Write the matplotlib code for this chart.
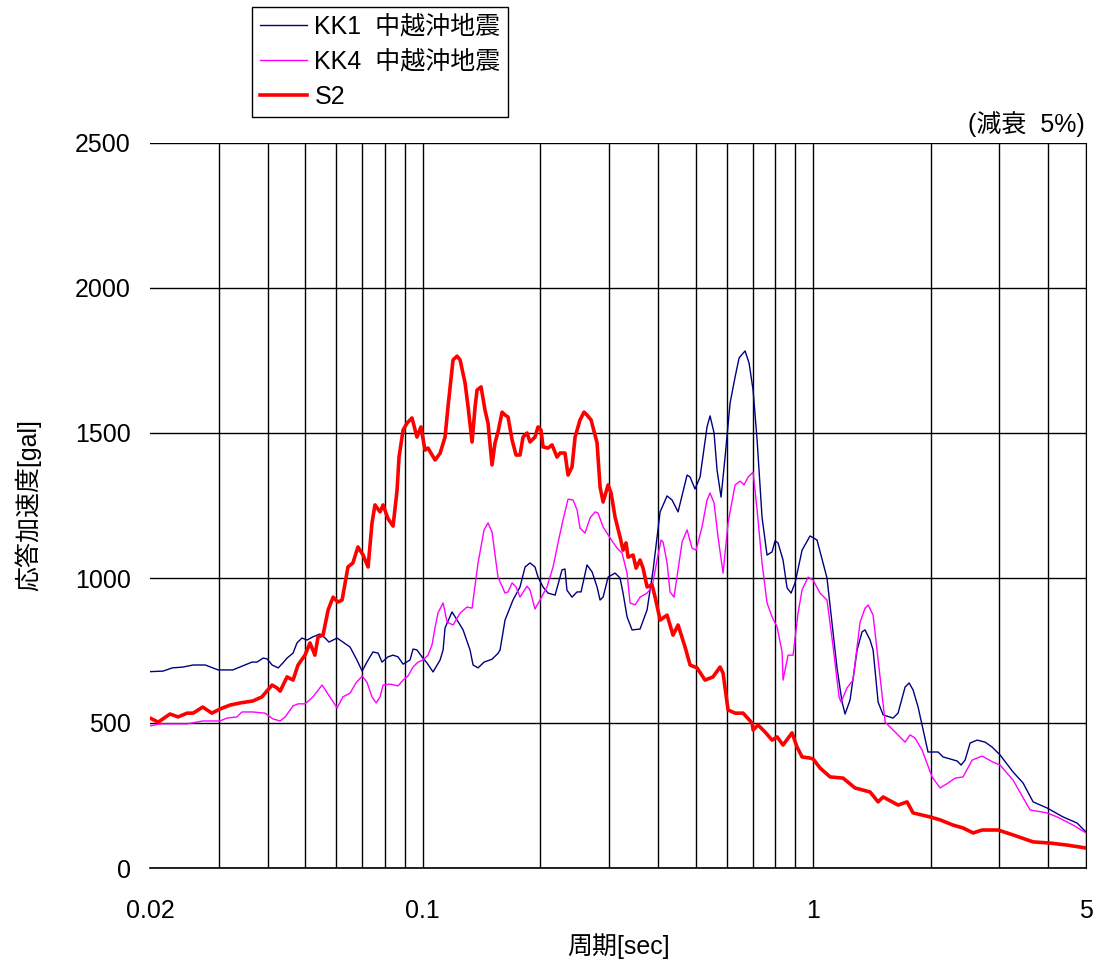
import matplotlib
matplotlib.use("Agg")
import matplotlib.pyplot as plt
from matplotlib.ticker import FixedLocator, NullFormatter

plt.rcParams['font.family'] = ['Liberation Sans', 'Noto Sans CJK JP', 'DejaVu Sans']

# 応答スペクトル (減衰5%)  period [sec] / acceleration [gal]
kk1_period = [0.0200, 0.0216, 0.0228, 0.0243, 0.0258, 0.0277, 0.0299, 0.0326, 0.0340, 0.0365,
              0.0376, 0.0390, 0.0399, 0.0411, 0.0426, 0.0438, 0.0449, 0.0465, 0.0476, 0.0490,
              0.0505, 0.0523, 0.0545, 0.0562, 0.0575, 0.0603, 0.0624, 0.0651, 0.0678, 0.0699,
              0.0719, 0.0745, 0.0768, 0.0786, 0.0814, 0.0839, 0.0864, 0.0890, 0.0927, 0.0944,
              0.0966, 0.0995, 0.1025, 0.1062, 0.1107, 0.1127, 0.1140, 0.1188, 0.1224, 0.1268,
              0.1321, 0.1345, 0.1385, 0.1435, 0.1504, 0.1558, 0.1577, 0.1624, 0.1702, 0.1774,
              0.1828, 0.1882, 0.1938, 0.1973, 0.2032, 0.2093, 0.2182, 0.2273, 0.2313, 0.2340,
              0.2411, 0.2484, 0.2543, 0.2634, 0.2714, 0.2795, 0.2845, 0.2896, 0.2983, 0.3108,
              0.3201, 0.3258, 0.3336, 0.3436, 0.3602, 0.3754, 0.3890, 0.4054, 0.4224, 0.4350,
              0.4507, 0.4753, 0.4838, 0.4981, 0.5131, 0.5347, 0.5443, 0.5573, 0.5672, 0.5808,
              0.5947, 0.6125, 0.6309, 0.6460, 0.6692, 0.6852, 0.7016, 0.7184, 0.7396, 0.7618,
              0.7847, 0.7987, 0.8128, 0.8372, 0.8573, 0.8778, 0.8987, 0.9366, 0.9818, 1.023,
              1.085, 1.125, 1.151, 1.186, 1.207, 1.243, 1.296, 1.334, 1.358, 1.399,
              1.424, 1.467, 1.511, 1.602, 1.650, 1.720, 1.761, 1.803, 1.857, 1.969,
              2.089, 2.152, 2.337, 2.393, 2.450, 2.524, 2.630, 2.758, 2.874, 3.011,
              3.252, 3.450, 3.660, 3.974, 4.368, 4.744, 5.0]
kk1_gal = [677, 679, 690, 693, 700, 700, 683, 683, 693, 710,
           710, 724, 721, 700, 690, 707, 724, 741, 776, 793,
           786, 797, 807, 793, 779, 793, 779, 762, 717, 679,
           710, 745, 741, 710, 728, 734, 728, 703, 717, 755,
           752, 728, 707, 676, 717, 752, 828, 883, 855, 821,
           752, 700, 690, 710, 720, 740, 752, 855, 924, 969,
           1038, 1052, 1038, 1003, 969, 948, 941, 1028, 1031, 958,
           934, 952, 952, 1045, 1021, 969, 924, 934, 1003, 1017,
           1000, 948, 866, 821, 824, 890, 1028, 1228, 1283, 1269,
           1228, 1355, 1348, 1307, 1348, 1521, 1559, 1500, 1372, 1279,
           1417, 1603, 1693, 1759, 1783, 1741, 1648, 1476, 1210, 1079,
           1090, 1128, 1121, 1062, 966, 948, 983, 1096, 1145, 1131,
           1000, 810, 690, 572, 531, 579, 752, 814, 821, 786,
           752, 572, 528, 517, 534, 624, 638, 614, 555, 400,
           400, 383, 369, 355, 372, 431, 441, 434, 417, 390,
           331, 293, 228, 207, 176, 155, 124]

kk4_period = [0.0200, 0.0212, 0.0249, 0.0273, 0.0302, 0.0315, 0.0334, 0.0344, 0.0367, 0.0394,
              0.0413, 0.0431, 0.0444, 0.0465, 0.0479, 0.0499, 0.0523, 0.0552, 0.0578, 0.0603,
              0.0624, 0.0651, 0.0674, 0.0699, 0.0719, 0.0741, 0.0759, 0.0777, 0.0791, 0.0824,
              0.0864, 0.0890, 0.0916, 0.0944, 0.0972, 0.1001, 0.1031, 0.1056, 0.1075, 0.1094,
              0.1127, 0.1154, 0.1195, 0.1246, 0.1298, 0.1337, 0.1385, 0.1435, 0.1469, 0.1504,
              0.1558, 0.1624, 0.1653, 0.1693, 0.1733, 0.1774, 0.1849, 0.1882, 0.1938, 0.1996,
              0.2080, 0.2156, 0.2220, 0.2286, 0.2355, 0.2426, 0.2484, 0.2528, 0.2603, 0.2682,
              0.2762, 0.2811, 0.2896, 0.3018, 0.3145, 0.3239, 0.3336, 0.3396, 0.3498, 0.3602,
              0.3754, 0.3866, 0.3982, 0.4078, 0.4126, 0.4224, 0.4299, 0.4401, 0.4615, 0.4753,
              0.4894, 0.5011, 0.5191, 0.5347, 0.5443, 0.5573, 0.5706, 0.5877, 0.6053, 0.6309,
              0.6498, 0.6653, 0.6811, 0.7016, 0.7184, 0.7396, 0.7618, 0.7847, 0.8084, 0.8324,
              0.8372, 0.8624, 0.8881, 0.9148, 0.9366, 0.9705, 0.9994, 1.041, 1.085, 1.125,
              1.165, 1.179, 1.221, 1.265, 1.319, 1.358, 1.383, 1.424, 1.467, 1.529,
              1.602, 1.720, 1.771, 1.824, 1.901, 2.017, 2.114, 2.216, 2.310, 2.421,
              2.554, 2.709, 2.890, 3.011, 3.252, 3.596, 3.974, 4.217, 4.634, 5.0]
kk4_gal = [490, 497, 497, 507, 507, 517, 521, 538, 538, 534,
           514, 507, 521, 559, 566, 566, 590, 631, 590, 552,
           590, 603, 638, 662, 641, 590, 569, 590, 631, 634,
           628, 648, 662, 693, 710, 717, 734, 770, 830, 880,
           914, 848, 838, 879, 900, 896, 1052, 1166, 1190, 1159,
           1003, 948, 952, 983, 969, 934, 972, 958, 893, 924,
           969, 1038, 1121, 1200, 1272, 1269, 1235, 1172, 1155, 1207,
           1228, 1224, 1176, 1138, 1103, 1086, 1017, 914, 907, 934,
           948, 969, 1062, 1131, 1124, 1052, 952, 934, 1124, 1166,
           1103, 1096, 1176, 1269, 1293, 1259, 1141, 1017, 1190, 1321,
           1334, 1321, 1348, 1365, 1235, 1052, 914, 866, 831, 745,
           648, 734, 734, 879, 959, 1003, 993, 948, 924, 762,
           590, 572, 621, 648, 848, 896, 907, 872, 717, 503,
           476, 434, 459, 448, 407, 314, 276, 293, 310, 314,
           372, 386, 365, 355, 303, 200, 190, 176, 148, 121]

s2_period = [0.0200, 0.0210, 0.0225, 0.0236, 0.0249, 0.0258, 0.0273, 0.0288, 0.0302, 0.0321,
             0.0340, 0.0367, 0.0387, 0.0401, 0.0411, 0.0423, 0.0431, 0.0449, 0.0465, 0.0479,
             0.0499, 0.0514, 0.0529, 0.0539, 0.0555, 0.0572, 0.0589, 0.0606, 0.0621, 0.0643,
             0.0662, 0.0682, 0.0703, 0.0724, 0.0741, 0.0754, 0.0777, 0.0791, 0.0814, 0.0839,
             0.0859, 0.0869, 0.0890, 0.0911, 0.0938, 0.0966, 0.0989, 0.1013, 0.1031, 0.1075,
             0.1107, 0.1140, 0.1160, 0.1195, 0.1224, 0.1246, 0.1283, 0.1306, 0.1337, 0.1361,
             0.1377, 0.1410, 0.1443, 0.1469, 0.1504, 0.1531, 0.1558, 0.1596, 0.1624, 0.1653,
             0.1693, 0.1733, 0.1774, 0.1806, 0.1849, 0.1882, 0.1938, 0.1973, 0.2008, 0.2032,
             0.2093, 0.2143, 0.2207, 0.2247, 0.2313, 0.2355, 0.2411, 0.2455, 0.2528, 0.2588,
             0.2634, 0.2698, 0.2795, 0.2845, 0.2896, 0.2983, 0.3036, 0.3108, 0.3201, 0.3258,
             0.3316, 0.3356, 0.3457, 0.3518, 0.3602, 0.3666, 0.3754, 0.3866, 0.3936, 0.4054,
             0.4224, 0.4375, 0.4507, 0.4697, 0.4838, 0.5041, 0.5284, 0.5540, 0.5774, 0.5877,
             0.6053, 0.6309, 0.6614, 0.6975, 0.7016, 0.7226, 0.7529, 0.7847, 0.8084, 0.8372,
             0.8829, 0.9094, 0.9366, 0.9818, 1.0, 1.041, 1.105, 1.193, 1.280, 1.399,
             1.467, 1.511, 1.650, 1.740, 1.803, 1.993, 2.114, 2.282, 2.421, 2.569,
             2.709, 2.976, 3.252, 3.660, 4.046, 4.474, 5.0]
s2_gal = [517, 503, 531, 521, 534, 534, 555, 534, 548, 562,
          569, 576, 590, 614, 631, 621, 610, 659, 648, 700,
          734, 776, 734, 797, 803, 890, 934, 917, 924, 1038,
          1052, 1107, 1079, 1038, 1190, 1252, 1228, 1252, 1205, 1179,
          1303, 1417, 1510, 1534, 1552, 1486, 1521, 1441, 1448, 1407,
          1430, 1486, 1590, 1752, 1765, 1752, 1672, 1590, 1469, 1590,
          1648, 1659, 1579, 1534, 1390, 1466, 1503, 1572, 1562, 1555,
          1476, 1424, 1424, 1486, 1500, 1469, 1486, 1521, 1510, 1452,
          1448, 1459, 1417, 1431, 1431, 1355, 1383, 1486, 1545, 1572,
          1562, 1545, 1466, 1314, 1262, 1321, 1293, 1210, 1141, 1096,
          1121, 1072, 1079, 1034, 1062, 1034, 969, 976, 934, 855,
          872, 803, 838, 762, 700, 690, 648, 659, 693, 672,
          545, 534, 534, 500, 476, 493, 469, 441, 452, 424,
          466, 417, 383, 379, 376, 345, 314, 310, 276, 262,
          228, 245, 217, 228, 190, 176, 166, 148, 138, 121,
          131, 131, 114, 90, 86, 79, 69]

x_major = [0.02, 0.1, 1, 5]
x_major_labels = ['0.02', '0.1', '1', '5']
x_grid = [0.03, 0.04, 0.05, 0.06, 0.07, 0.08, 0.09,
          0.2, 0.3, 0.4, 0.5, 0.6, 0.7, 0.8, 0.9, 2, 3, 4]
y_ticks = [0, 500, 1000, 1500, 2000, 2500]

fig = plt.figure(figsize=(10.97, 9.65), dpi=100)
ax = fig.add_axes([150 / 1097, 97 / 965, 936 / 1097, 725 / 965])

l1, = ax.plot(kk1_period, kk1_gal, color='#000080', lw=1.0, label='KK1  中越沖地震', zorder=3)
l2, = ax.plot(kk4_period, kk4_gal, color='#ff00ff', lw=1.0, label='KK4  中越沖地震', zorder=3)
l3, = ax.plot(s2_period, s2_gal, color='#ff0000', lw=2.6, label='S2', zorder=4)

ax.set_xscale('log')
ax.set_xlim(0.02, 5)
ax.set_ylim(0, 2500)

ax.xaxis.set_major_locator(FixedLocator(x_major))
ax.set_xticklabels(x_major_labels)
ax.xaxis.set_minor_locator(FixedLocator(x_grid))
ax.xaxis.set_minor_formatter(NullFormatter())
ax.set_yticks(y_ticks)

ax.grid(True, which='both', axis='x', color='black', lw=1.0)
ax.grid(True, which='major', axis='y', color='black', lw=1.0)
ax.xaxis.get_gridlines()[0].set_visible(False)
ax.set_axisbelow(True)

for s in ['left', 'top']:
    ax.spines[s].set_visible(False)
ax.spines['right'].set_color('black')
ax.spines['bottom'].set_color('black')
ax.spines['bottom'].set_linewidth(1.2)

ax.tick_params(axis='both', which='both', length=0, labelsize=18)
ax.tick_params(axis='x', pad=22)
ax.tick_params(axis='y', pad=14)

ax.set_xlabel('周期[sec]', fontsize=18, labelpad=8)
ax.set_ylabel('応答加速度[gal]', fontsize=18, labelpad=24)

fig.text(1085 / 1097, 1 - 132 / 965, '(減衰  5%)', fontsize=18, ha='right', va='baseline')

leg = fig.legend(handles=[l1, l2, l3], loc='upper left',
                 bbox_to_anchor=(252 / 1097, 1 - 7 / 965), fontsize=18,
                 frameon=True, fancybox=False, shadow=False, framealpha=1,
                 edgecolor='black', handlelength=1.9, handletextpad=0.3,
                 labelspacing=0.45, borderpad=0.3, borderaxespad=0)
leg.get_frame().set_linewidth(1.0)

fig.savefig('out.png', dpi=100)
